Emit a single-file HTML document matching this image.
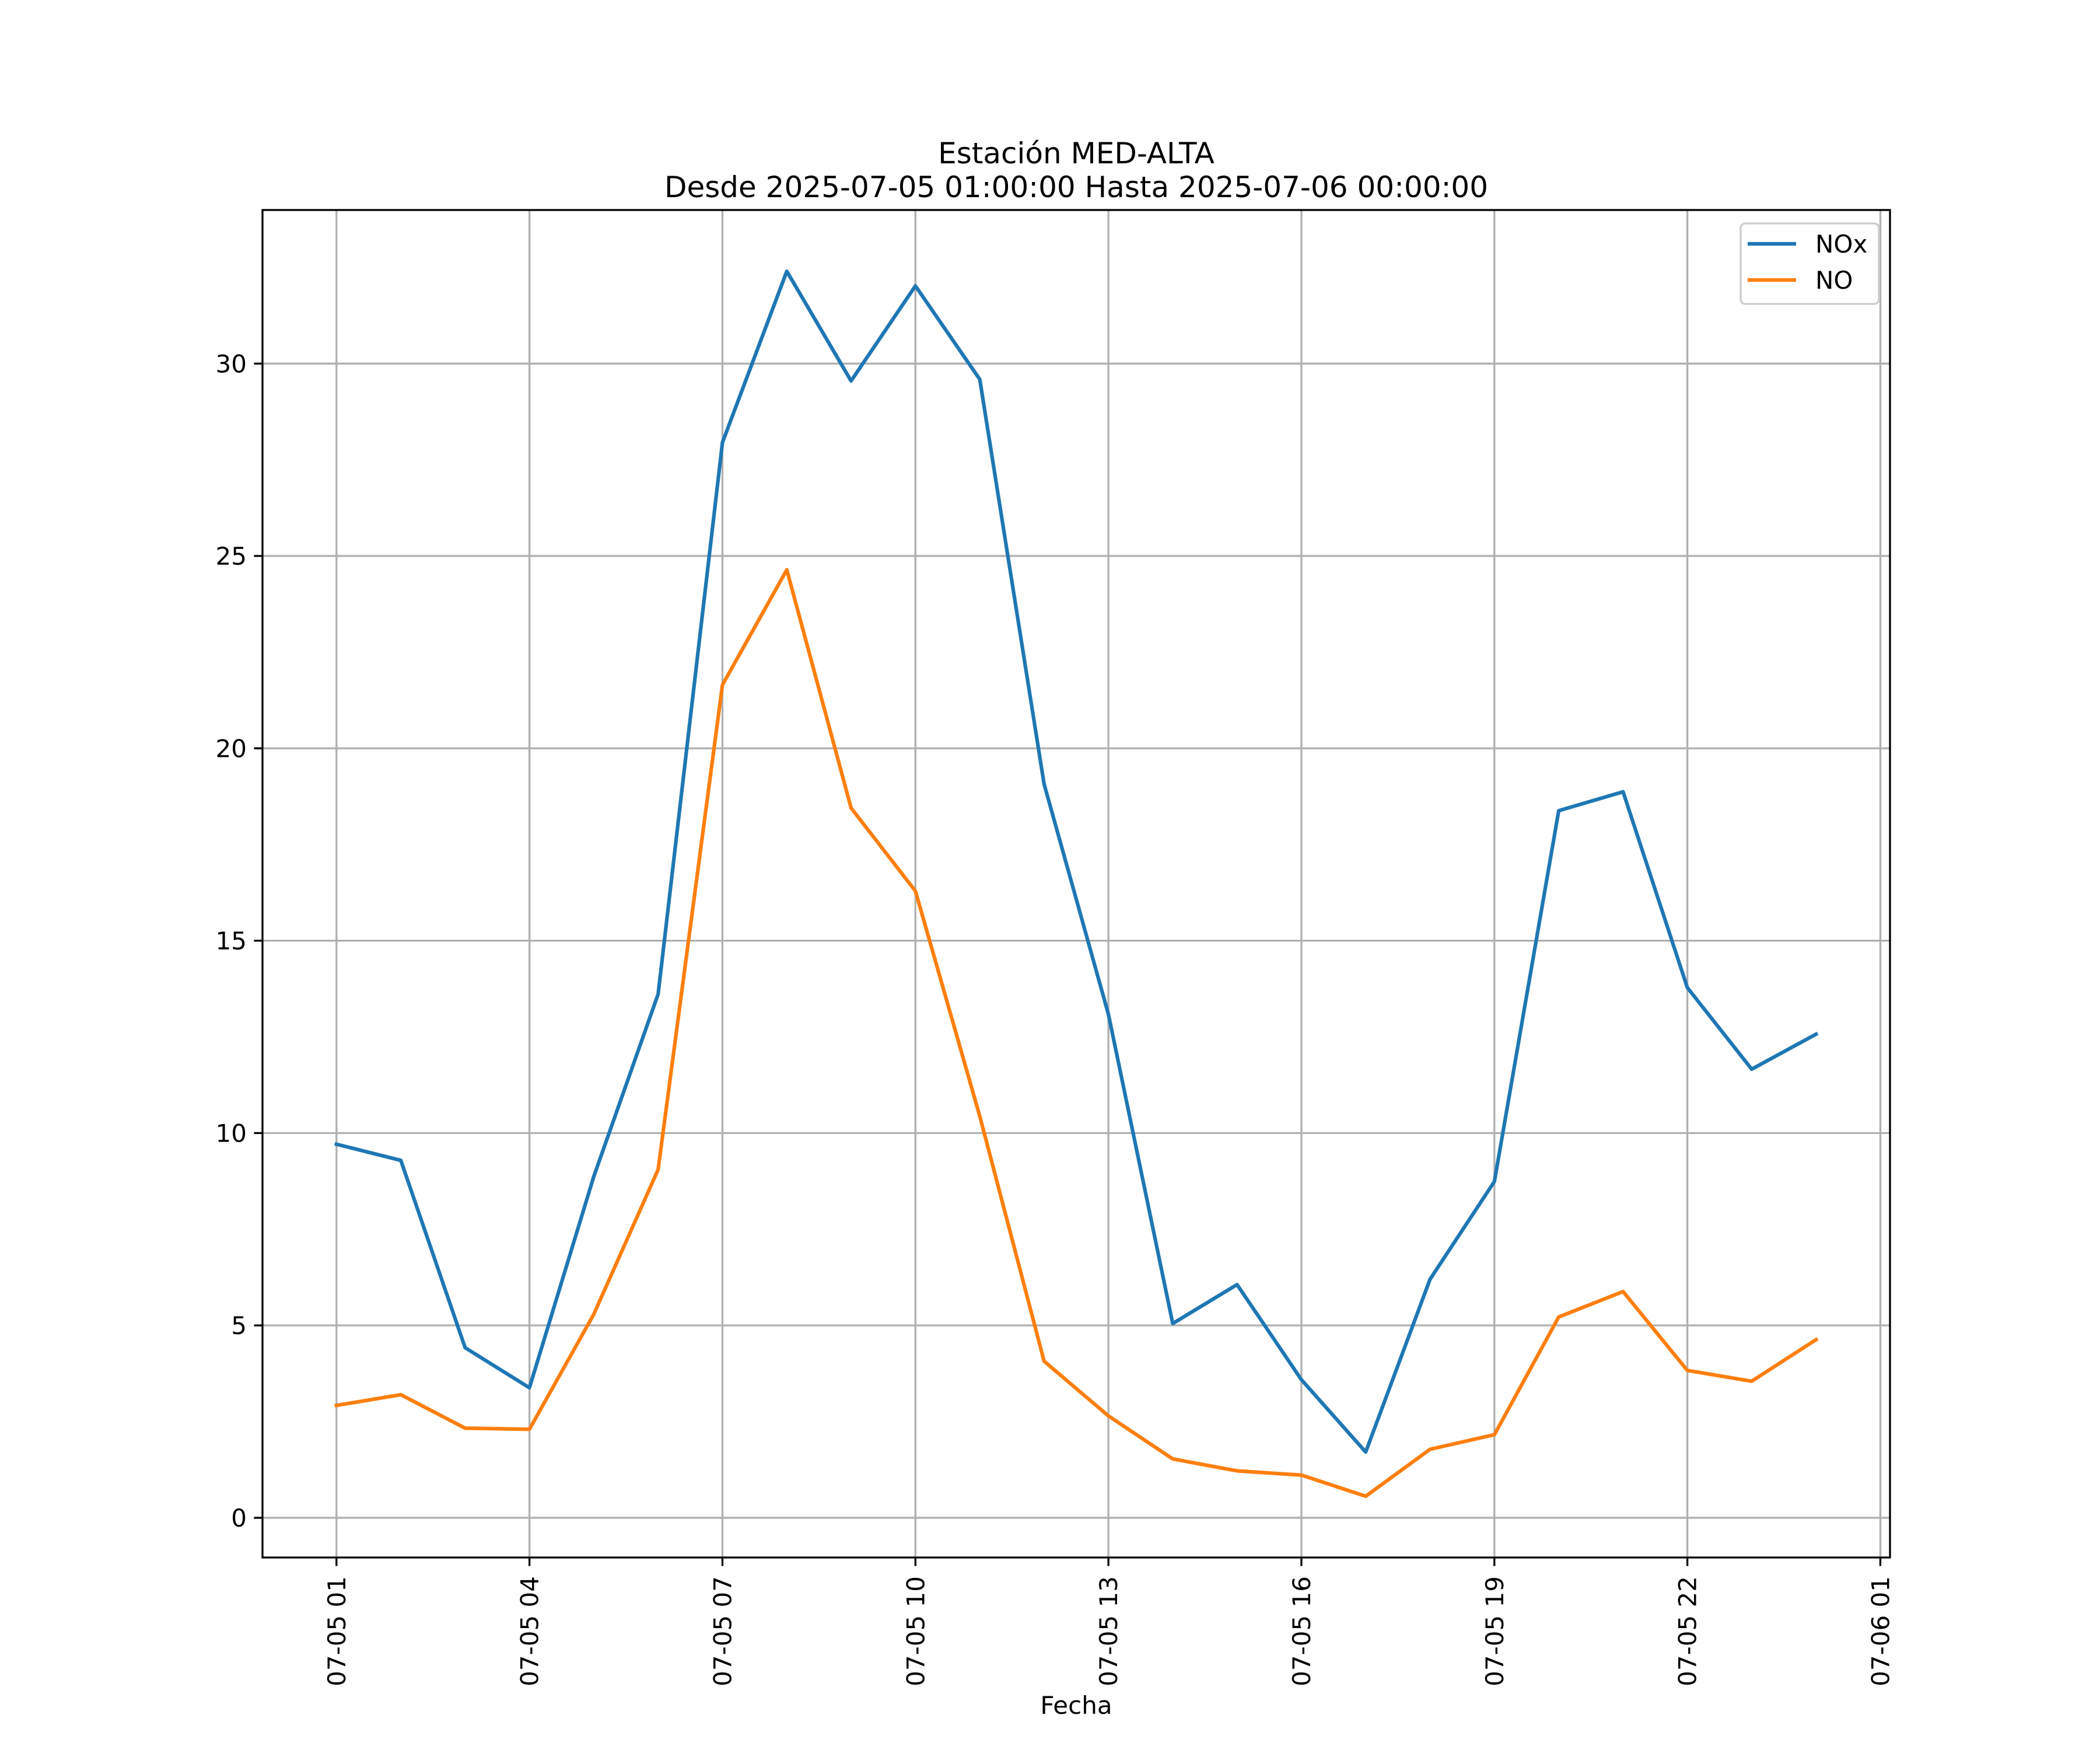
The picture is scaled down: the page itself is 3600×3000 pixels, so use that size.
<!DOCTYPE html>
<html><head><meta charset="utf-8"><style>
html,body{margin:0;padding:0;background:#fff;}
svg{display:block;font-family:"DejaVu Sans","Liberation Sans",sans-serif;}
</style></head><body>
<svg id="chart" width="3600" height="3000" viewBox="0 0 3600 3000" xmlns="http://www.w3.org/2000/svg">
<rect width="3600" height="3000" fill="#fff"/>
<text x="1845" y="280" font-size="50" text-anchor="middle">Estación MED-ALTA</text>
<text x="1845" y="338" font-size="50" text-anchor="middle">Desde 2025-07-05 01:00:00 Hasta 2025-07-06 00:00:00</text>
<g id="grid"></g>
<g id="series"></g>
<rect x="450" y="360" width="2790" height="2310" fill="none" stroke="#000" stroke-width="3.3"/>
<g id="ticks"></g>
<text x="1845" y="2938" font-size="42" text-anchor="middle">Fecha</text>
<g>
<rect x="2984" y="383" width="237" height="138" rx="8" fill="#fff" fill-opacity="0.8" stroke="#ccc" stroke-width="3.3"/>
<line x1="2996" y1="418" x2="3079" y2="418" stroke="#1f77b4" stroke-width="6.25"/>
<text x="3112" y="433" font-size="42">NOx</text>
<line x1="2996" y1="480" x2="3079" y2="480" stroke="#ff7f0e" stroke-width="6.25"/>
<text x="3112" y="495" font-size="42">NO</text>
</g>
</svg>
<script>
const hours = [0,1,2,3,4,5,6,7,8,9,10,11,12,13,14,15,16,17,18,19,20,21,22,23];
const noxValues = [9.71,9.29,4.42,3.38,8.87,13.61,27.95,32.40,29.55,32.02,29.59,19.07,13.09,5.05,6.06,3.59,1.71,6.20,8.74,18.38,18.87,13.78,11.66,12.57];
const noValues = [2.92,3.20,2.33,2.30,5.29,9.05,21.65,24.64,18.45,16.29,10.44,4.07,2.65,1.53,1.22,1.11,0.56,1.78,2.16,5.22,5.88,3.83,3.55,4.63];
const yTicks = [0,5,10,15,20,25,30];
const xTickHours = [0,3,6,9,12,15,18,21,24];
const xTickLabels = ["07-05 01","07-05 04","07-05 07","07-05 10","07-05 13","07-05 16","07-05 19","07-05 22","07-06 01"];

const NS="http://www.w3.org/2000/svg";
const L=450,R=3240,T=360,B=2670;
const hMin=Math.min(...hours),hMax=Math.max(...hours),hm=(hMax-hMin)*0.05;
const all=noxValues.concat(noValues);
const vMin=Math.min(...all),vMax=Math.max(...all),vm=(vMax-vMin)*0.05;
const x0=hMin-hm,x1=hMax+hm,y0=vMin-vm,y1=vMax+vm;
function xs(h){return L+(h-x0)/(x1-x0)*(R-L);}
function ys(v){return B-(v-y0)/(y1-y0)*(B-T);}
function mk(tag,attrs,parent){const e=document.createElementNS(NS,tag);for(const k in attrs)e.setAttribute(k,attrs[k]);parent.appendChild(e);return e;}
const grid=document.getElementById('grid'),ticks=document.getElementById('ticks'),series=document.getElementById('series');
yTicks.forEach(v=>{
  const y=ys(v);
  const g=mk('line',{x1:L,x2:R,y1:y,y2:y,stroke:'#b0b0b0','stroke-width':3.3},grid);
  
  
  const t=mk('line',{x1:L-14.6,x2:L,y1:y,y2:y,stroke:'#000','stroke-width':3.3},ticks);
  
  
  const tx=mk('text',{x:L-27,y:y+15,'font-size':42,'text-anchor':'end'},ticks);
  tx.textContent=v;
  
  
});
xTickHours.forEach((h,i)=>{
  const x=xs(h);
  const g=mk('line',{x1:x,x2:x,y1:T,y2:B,stroke:'#b0b0b0','stroke-width':3.3},grid);
  
  
  const t=mk('line',{x1:x,x2:x,y1:B,y2:B+14.6,stroke:'#000','stroke-width':3.3},ticks);
  
  
  const tx=mk('text',{x:0,y:0,'font-size':42,'text-anchor':'end',transform:'translate('+(x+15)+','+(B+32)+') rotate(-90)'},ticks);
  tx.textContent=xTickLabels[i];
  
  
});
function drawLine(vals,color,name){
  const pts=hours.map((h,i)=>xs(h).toFixed(1)+','+ys(vals[i]).toFixed(1)).join(' ');
  const p=mk('polyline',{points:pts,fill:'none',stroke:color,'stroke-width':6.25,'stroke-linejoin':'round','stroke-linecap':'square'},series);
  
  
}
drawLine(noxValues,'#1f77b4','nox-line');
drawLine(noValues,'#ff7f0e','no-line');
</script>
</body></html>
